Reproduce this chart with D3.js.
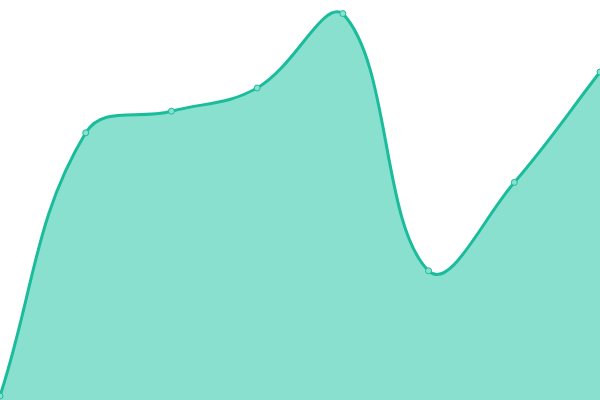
<!DOCTYPE html>
<html>
<head>
<meta charset="utf-8">
<script src="https://cdn.jsdelivr.net/npm/d3@7"></script>
<style>
  html, body { margin: 0; padding: 0; background: #fff; }
  svg { display: block; }
</style>
</head>
<body>
<div id="chart"></div>
<script>
var width = 600,
    height = 400;

// data
var categories = ['A', 'B', 'C', 'D', 'E', 'F', 'G', 'H'];
var values = [1, 66.8, 72.2, 78, 96.6, 32.3, 54.4, 82];
var yDomain = [0, 100];

var lineColor = '#1abc9c';
var areaColor = '#8ae0cf';

// spline with tension 0.4, control points kept inside the plot box
function splineCurve(tension, box) {
  function Spline(context) { this._context = context; }
  Spline.prototype = {
    areaStart: function() { this._line = 0; },
    areaEnd: function() { this._line = NaN; },
    lineStart: function() { this._pts = []; },
    point: function(x, y) { this._pts.push([+x, +y]); },
    lineEnd: function() {
      var p = this._pts, n = p.length, ctx = this._context;
      var clampX = function(v) { return Math.max(box[0][0], Math.min(box[1][0], v)); };
      var clampY = function(v) { return Math.max(box[0][1], Math.min(box[1][1], v)); };
      var ctrl = p.map(function(cur, i) {
        var prev = p[i - 1] || cur, next = p[i + 1] || cur;
        var d01 = Math.hypot(cur[0] - prev[0], cur[1] - prev[1]);
        var d12 = Math.hypot(next[0] - cur[0], next[1] - cur[1]);
        var s01 = d01 / (d01 + d12), s12 = d12 / (d01 + d12);
        if (isNaN(s01)) s01 = 0;
        if (isNaN(s12)) s12 = 0;
        var fa = tension * s01, fb = tension * s12;
        return {
          prev: [clampX(cur[0] - fa * (next[0] - prev[0])), clampY(cur[1] - fa * (next[1] - prev[1]))],
          next: [clampX(cur[0] + fb * (next[0] - prev[0])), clampY(cur[1] + fb * (next[1] - prev[1]))]
        };
      });
      if (n) {
        if (this._line) ctx.lineTo(p[0][0], p[0][1]);
        else ctx.moveTo(p[0][0], p[0][1]);
      }
      for (var i = 1; i < n; i++) {
        ctx.bezierCurveTo(ctrl[i - 1].next[0], ctrl[i - 1].next[1],
                          ctrl[i].prev[0], ctrl[i].prev[1],
                          p[i][0], p[i][1]);
      }
      if (this._line || (this._line !== 0 && n === 1)) ctx.closePath();
      this._line = 1 - this._line;
    }
  };
  return function(context) { return new Spline(context); };
}

var svg = d3.select('#chart')
  .append('svg')
    .attr('width', width)
    .attr('height', height);

var x = d3.scalePoint()
  .domain(categories)
  .range([0, width]);

var y = d3.scaleLinear()
  .domain(yDomain)
  .range([height, 0]);

var points = categories.map(function(c, i) { return { cat: c, value: values[i] }; });

var curve = splineCurve(0.4, [[0, 0], [width, height]]);

var area = d3.area()
  .x(function(d) { return x(d.cat); })
  .y0(y(0))
  .y1(function(d) { return y(d.value); })
  .curve(curve);

var line = d3.line()
  .x(function(d) { return x(d.cat); })
  .y(function(d) { return y(d.value); })
  .curve(curve);

svg.append('path')
  .datum(points)
  .attr('d', area)
  .attr('fill', areaColor);

svg.append('path')
  .datum(points)
  .attr('d', line)
  .attr('fill', 'none')
  .attr('stroke', lineColor)
  .attr('stroke-width', 3);

svg.selectAll('circle.dot')
  .data(points)
  .enter().append('circle')
    .attr('class', 'dot')
    .attr('cx', function(d) { return x(d.cat); })
    .attr('cy', function(d) { return y(d.value); })
    .attr('r', 3)
    .attr('fill', areaColor)
    .attr('stroke', lineColor)
    .attr('stroke-width', 1);
</script>
</body>
</html>
